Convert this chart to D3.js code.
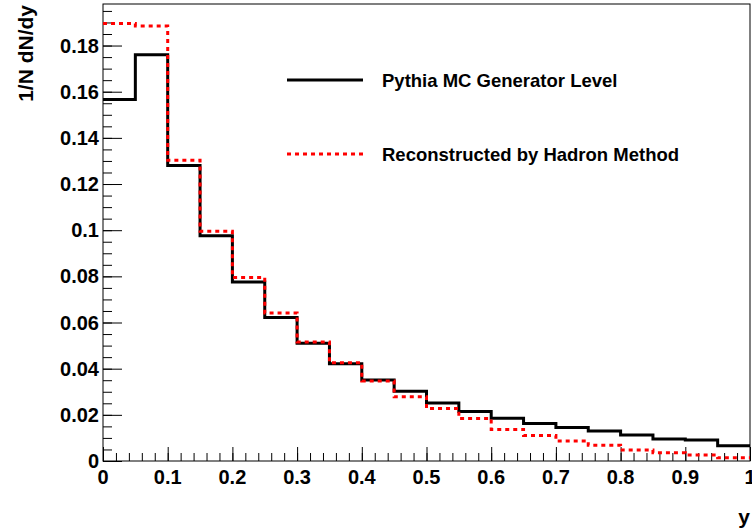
<!DOCTYPE html>
<html>
<head>
<meta charset="utf-8">
<script src="https://cdn.jsdelivr.net/npm/d3@7"></script>
<style>
  body { margin: 0; background: #fff; }
  text { font-family: "Liberation Sans", Arial, sans-serif; font-weight: bold; fill: #000; }
</style>
</head>
<body>
<svg></svg>
<script>
const width = 752;
const height = 531;

// bin low edges, width 0.05
const binEdges = [0, 0.05, 0.1, 0.15, 0.2, 0.25, 0.3, 0.35, 0.4, 0.45,
  0.5, 0.55, 0.6, 0.65, 0.7, 0.75, 0.8, 0.85, 0.9, 0.95];
const pythia = [0.1566, 0.176, 0.128, 0.0976, 0.0776, 0.0622, 0.0510, 0.0421, 0.0351, 0.0302,
  0.0251, 0.0214, 0.0185, 0.0163, 0.0145, 0.0130, 0.0113, 0.0095, 0.0091, 0.0066];
const hadron = [0.1895, 0.1885, 0.1303, 0.0995, 0.0795, 0.0641, 0.0516, 0.0426, 0.0347, 0.0278,
  0.0227, 0.0184, 0.0137, 0.0110, 0.0087, 0.0068, 0.0048, 0.0036, 0.0026, 0.0014];
const xTicks = [0, 0.1, 0.2, 0.3, 0.4, 0.5, 0.6, 0.7, 0.8, 0.9, 1];
const yTicks = [0, 0.02, 0.04, 0.06, 0.08, 0.1, 0.12, 0.14, 0.16, 0.18];

const svg = d3.select('svg')
  .attr('width', width)
  .attr('height', height);

const x = d3.scaleLinear().domain([0, 1]).range([103, 750]);
const y = d3.scaleLinear().domain([0, 0.198]).range([461, 4]);

const fmt = d => String(+d.toFixed(2));

// frame
svg.append("rect")
  .attr("x", x(0)).attr("y", y(0.198))
  .attr("width", x(1) - x(0)).attr("height", y(0) - y(0.198))
  .attr("fill", "none").attr("stroke", "#000").attr("stroke-width", 1);

// x axis
const xMinor = d3.range(0, 1.0001, 0.02);
svg.append("g")
  .attr("transform", `translate(0,${y(0)})`)
  .call(d3.axisTop(x).tickValues(xMinor).tickSize(8).tickFormat(""))
  .call(g => g.select(".domain").remove());
svg.append("g")
  .attr("transform", `translate(0,${y(0)})`)
  .call(d3.axisTop(x).tickValues(xTicks).tickSize(14).tickFormat(""))
  .call(g => g.select(".domain").remove());
svg.append("g")
  .selectAll("text")
  .data(xTicks)
  .enter()
  .append("text")
  .attr("x", d => x(d))
  .attr("y", 484)
  .attr("text-anchor", "middle")
  .style("font-size", "20px")
  .text(fmt);

// y axis
const yMinor = d3.range(0, 0.1951, 0.005);
svg.append("g")
  .attr("transform", `translate(${x(0)},0)`)
  .call(d3.axisRight(y).tickValues(yMinor).tickSize(9).tickFormat(""))
  .call(g => g.select(".domain").remove());
svg.append("g")
  .attr("transform", `translate(${x(0)},0)`)
  .call(d3.axisRight(y).tickValues(yTicks).tickSize(19).tickFormat(""))
  .call(g => g.select(".domain").remove());
svg.append("g")
  .selectAll("text")
  .data(yTicks)
  .enter()
  .append("text")
  .attr("x", 99)
  .attr("y", d => y(d) + 7)
  .attr("text-anchor", "end")
  .style("font-size", "20px")
  .text(fmt);

svg.selectAll(".tick line").attr("stroke", "#000");

// axis titles
svg.append("text")
  .attr("x", 750).attr("y", 524)
  .attr("text-anchor", "end")
  .style("font-size", "21px")
  .text("y");
svg.append("text")
  .attr("transform", "translate(33,5) rotate(-90)")
  .attr("text-anchor", "end")
  .style("font-size", "21px")
  .text("1/N dN/dy");

// histograms
const histLine = d3.line()
  .x(d => x(d[0]))
  .y(d => y(d[1]))
  .curve(d3.curveStepAfter);
const toPts = vals => vals.map((v, i) => [binEdges[i], v]).concat([[1, vals[vals.length - 1]]]);

svg.append("path")
  .attr("d", histLine(toPts(pythia)))
  .attr("fill", "none").attr("stroke", "#000").attr("stroke-width", 3);
svg.append("path")
  .attr("d", histLine(toPts(hadron)))
  .attr("fill", "none").attr("stroke", "#ff0000").attr("stroke-width", 3)
  .attr("stroke-dasharray", "4,4");

// legend
const legend = [
  { label: "Pythia MC Generator Level", color: "#000", dash: null, y: 80 },
  { label: "Reconstructed by Hadron Method", color: "#ff0000", dash: "4,4", y: 154 }
];
const lg = svg.append("g").selectAll("g").data(legend).enter().append("g");
lg.append("line")
  .attr("x1", 287).attr("x2", 363)
  .attr("y1", d => d.y).attr("y2", d => d.y)
  .attr("stroke", d => d.color).attr("stroke-width", 3)
  .attr("stroke-dasharray", d => d.dash);
lg.append("text")
  .attr("x", 382).attr("y", d => d.y + 6.5)
  .style("font-size", "18.5px")
  .text(d => d.label);
</script>
</body>
</html>
